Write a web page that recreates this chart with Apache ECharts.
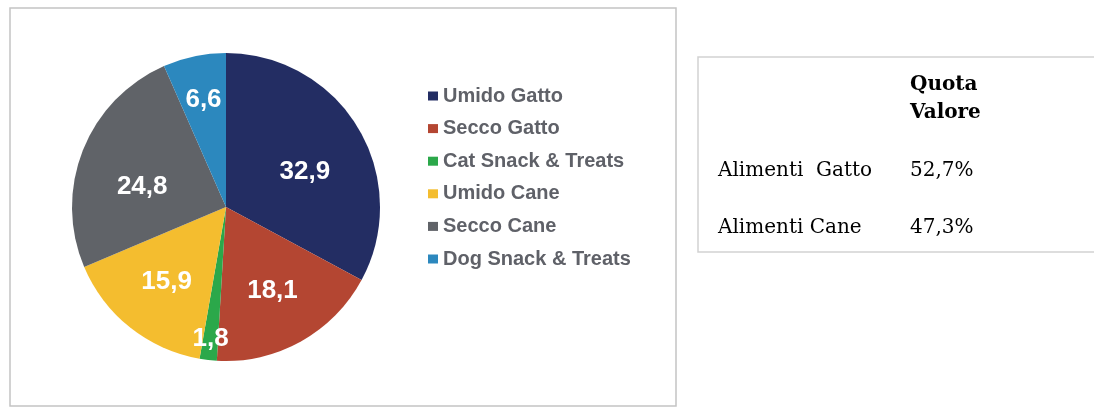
<!DOCTYPE html>
<html>
<head>
<meta charset="utf-8">
<script src="https://cdn.jsdelivr.net/npm/echarts@6/dist/echarts.min.js"></script>
<style>
  html, body { margin: 0; padding: 0; background: #ffffff; }
  #chart { width: 1094px; height: 408px; }
</style>
</head>
<body>
<div id="chart"></div>
<script>
// Segment names and shares (%)
const categories = ['Umido Gatto', 'Secco Gatto', 'Cat Snack & Treats', 'Umido Cane', 'Secco Cane', 'Dog Snack & Treats'];
const shares = [32.9, 18.1, 1.8, 15.9, 24.8, 6.6];

// Summary table
const tableHeader = ['Quota', 'Valore'];
const tableRows = ['Alimenti  Gatto', 'Alimenti Cane'];
const tableValues = ['52,7%', '47,3%'];

// Slice colours
const palette = ['#232D63', '#B44632', '#2BA84A', '#F4BD2F', '#606368', '#2C88BE'];

// Pie geometry; value labels sit at a fraction of the radius, nudged by a small angle (deg)
const PIE_CX = 226, PIE_CY = 207, PIE_R = 154;
const labelRadius = [0.56, 0.62, 0.86, 0.62, 0.56, 0.71];
const labelTurn = [-7, 0, 0, 0, 8, 0];

const fmt = v => v.toFixed(1).replace('.', ',');

const chart = echarts.init(document.getElementById('chart'), null, { renderer: 'canvas' });

const tableFont = '"DejaVu Serif", serif';
const graphics = [
  { type: 'rect', shape: { x: 10, y: 8, width: 666, height: 398 }, style: { fill: 'none', stroke: '#c4c4c4', lineWidth: 1.5 }, silent: true },
  { type: 'rect', shape: { x: 698, y: 57, width: 420, height: 195 }, style: { fill: 'none', stroke: '#d2d2d2', lineWidth: 1.5 }, silent: true }
];
tableHeader.forEach((t, i) => {
  graphics.push({ type: 'text', left: 910, top: 75 + i * 28,
    style: { text: t, font: 'bold 20px ' + tableFont, fill: '#000000' } });
});
tableRows.forEach((t, i) => {
  graphics.push({ type: 'text', left: 718, top: 161 + i * 57,
    style: { text: t, font: '20px ' + tableFont, fill: '#000000' } });
  graphics.push({ type: 'text', left: 910, top: 161 + i * 57,
    style: { text: tableValues[i], font: '20px ' + tableFont, fill: '#000000' } });
});

chart.setOption({
  backgroundColor: '#ffffff',
  animation: false,
  color: palette,
  legend: {
    orient: 'vertical',
    left: 428,
    top: 85,
    padding: 0,
    icon: 'rect',
    itemWidth: 10,
    itemHeight: 9,
    itemGap: 10.6,
    data: categories,
    textStyle: {
      fontFamily: '"Liberation Sans", Arial, sans-serif',
      fontWeight: 'bold',
      fontSize: 20,
      lineHeight: 22,
      color: '#5f6168'
    },
    selectedMode: false
  },
  graphic: graphics,
  series: [{
    type: 'pie',
    center: [PIE_CX, PIE_CY],
    radius: [0, PIE_R],
    startAngle: 90,
    clockwise: true,
    avoidLabelOverlap: false,
    silent: true,
    data: categories.map((c, i) => ({ name: c, value: shares[i] })),
    itemStyle: { borderWidth: 0 },
    label: {
      show: true,
      position: 'inside',
      formatter: p => fmt(p.value),
      color: '#ffffff',
      fontFamily: '"Liberation Sans", Arial, sans-serif',
      fontWeight: 'bold',
      fontSize: 26
    },
    labelLine: { show: false },
    labelLayout: function (p) {
      const r = p.labelRect;
      const lx = r.x + r.width / 2, ly = r.y + r.height / 2;
      // angle measured with y pointing up
      const ang = Math.atan2(PIE_CY - ly, lx - PIE_CX) + labelTurn[p.dataIndex] * Math.PI / 180;
      const target = labelRadius[p.dataIndex] * PIE_R;
      const tx = PIE_CX + Math.cos(ang) * target;
      const ty = PIE_CY - Math.sin(ang) * target;
      return { dx: tx - lx, dy: ty - ly };
    }
  }]
});
</script>
</body>
</html>
